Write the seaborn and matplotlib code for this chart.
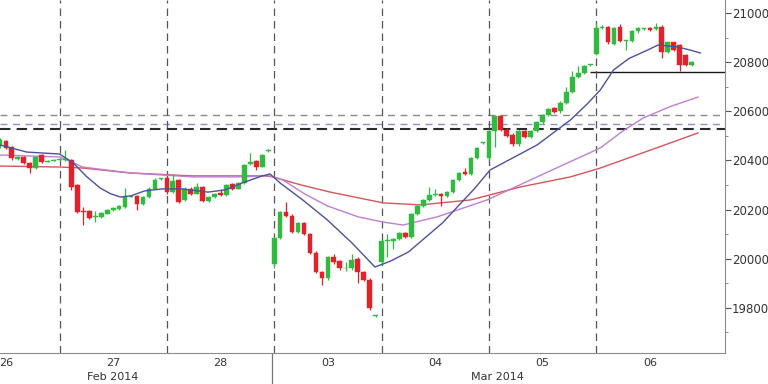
import numpy as np
import pandas as pd
import matplotlib
matplotlib.use('Agg')
import matplotlib.pyplot as plt
import matplotlib.transforms as mtransforms
import seaborn as sns

# candles: (open, close, high, low), one per hourly slot
candles = [
    # 26 Feb
    (20458, 20483, 20490, 20452), (20479, 20451, 20485, 20445), (20455, 20410, 20458, 20402),
    (20406, 20414, 20418, 20400), (20414, 20390, 20418, 20385), (20390, 20369, 20392, 20350),
    (20369, 20414, 20418, 20365), (20422, 20394, 20428, 20390), (20394, 20398, 20402, 20392),
    (20398, 20400, 20404, 20396),
    # 27 Feb
    (20400, 20402, 20406, 20396), (20400, 20402, 20442, 20398), (20402, 20290, 20405, 20278),
    (20300, 20190, 20305, 20185), (20195, 20192, 20210, 20137), (20195, 20165, 20198, 20160),
    (20168, 20170, 20195, 20150), (20170, 20185, 20188, 20165), (20183, 20200, 20204, 20180),
    (20200, 20205, 20212, 20196), (20203, 20215, 20220, 20200), (20210, 20253, 20288, 20205),
    (20253, 20255, 20258, 20250), (20255, 20222, 20260, 20200), (20222, 20250, 20255, 20218),
    (20250, 20285, 20290, 20246), (20285, 20322, 20330, 20282), (20323, 20325, 20328, 20320),
    # 28 Feb
    (20330, 20270, 20335, 20262), (20272, 20318, 20345, 20268), (20320, 20232, 20324, 20226),
    (20238, 20285, 20290, 20234), (20285, 20265, 20290, 20260), (20265, 20292, 20310, 20262),
    (20292, 20235, 20296, 20230), (20235, 20250, 20254, 20230), (20250, 20265, 20268, 20246),
    (20268, 20260, 20285, 20256), (20260, 20300, 20304, 20256), (20305, 20285, 20308, 20280),
    (20285, 20310, 20314, 20282), (20310, 20382, 20386, 20306), (20385, 20395, 20430, 20380),
    (20398, 20375, 20402, 20360), (20375, 20420, 20425, 20372), (20438, 20440, 20446, 20434),
    # 03 Mar
    (19980, 20085, 20090, 19960), (20085, 20190, 20195, 20080), (20190, 20175, 20230, 20170),
    (20175, 20110, 20180, 20105), (20110, 20145, 20150, 20105), (20145, 20100, 20150, 20095),
    (20100, 20025, 20104, 20020), (20025, 19945, 20030, 19940), (19945, 19920, 19950, 19892),
    (19920, 20005, 20010, 19915), (20005, 19985, 20020, 19980), (19990, 19960, 19995, 19955),
    (19960, 19962, 19985, 19950), (19960, 19995, 20020, 19955), (20000, 19945, 20005, 19900),
    (19945, 19915, 19950, 19910), (19915, 19800, 19920, 19790), (19767, 19768, 19772, 19764),
    # 04 Mar
    (19985, 20070, 20075, 19975), (20070, 20073, 20100, 20006), (20070, 20080, 20084, 20040),
    (20080, 20105, 20110, 20076), (20105, 20090, 20110, 20086), (20090, 20180, 20184, 20086),
    (20180, 20215, 20220, 20176), (20215, 20240, 20244, 20210), (20240, 20260, 20290, 20236),
    (20260, 20262, 20285, 20256), (20262, 20255, 20266, 20215), (20255, 20270, 20274, 20250),
    (20270, 20320, 20324, 20266), (20320, 20350, 20354, 20316), (20352, 20345, 20370, 20340),
    (20345, 20410, 20414, 20340), (20410, 20450, 20455, 20405), (20470, 20472, 20476, 20466),
    # 05 Mar
    (20410, 20518, 20525, 20400), (20518, 20580, 20585, 20455), (20580, 20525, 20585, 20520),
    (20525, 20500, 20530, 20495), (20505, 20465, 20510, 20460), (20465, 20520, 20525, 20460),
    (20520, 20495, 20525, 20490), (20495, 20520, 20525, 20490), (20520, 20555, 20560, 20515),
    (20555, 20585, 20590, 20550), (20585, 20610, 20615, 20580), (20612, 20597, 20616, 20592),
    (20600, 20635, 20640, 20595), (20632, 20680, 20700, 20628), (20680, 20740, 20765, 20676),
    (20740, 20755, 20785, 20736), (20755, 20785, 20790, 20750), (20788, 20790, 20794, 20785),
    # 06 Mar
    (20835, 20940, 20960, 20830), (20938, 20945, 20950, 20934), (20942, 20880, 20946, 20875),
    (20872, 20940, 20945, 20868), (20942, 20885, 20955, 20880), (20885, 20888, 20892, 20850),
    (20885, 20925, 20930, 20880), (20925, 20937, 20942, 20920), (20935, 20937, 20941, 20931),
    (20940, 20930, 20945, 20926), (20935, 20945, 20960, 20930), (20945, 20840, 20950, 20815),
    (20840, 20880, 20884, 20836), (20880, 20850, 20884, 20846), (20870, 20790, 20874, 20765),
    (20830, 20790, 20834, 20786), (20790, 20800, 20804, 20786),
]
first_slot = -10

# moving averages, read at points along each line
blue_t = [-10, -5.5, 0, 2.3, 4.5, 6.8, 8.5, 10.2, 12.0, 14.3, 17.2, 20.6, 24.9, 27.8, 30.6,
          34.0, 35.3, 37.0, 41.0, 44.9, 49.0, 52.9, 55.5, 58.5, 64.2, 69.7, 72.2, 76.0,
          80.1, 85.7, 88.5, 90.7, 92.9, 95.5, 98.6, 100.4, 103.6, 105.8, 107.5]
blue_v = [20463, 20434, 20426, 20390, 20335, 20288, 20265, 20251, 20256, 20276, 20284, 20284,
          20271, 20280, 20308, 20337, 20345, 20308, 20235, 20158, 20065, 19966, 19990, 20027,
          20145, 20288, 20361, 20410, 20463, 20565, 20630, 20687, 20768, 20815, 20849, 20870,
          20862, 20849, 20837]
purple_t = [-10, 0.1, 3.9, 11.8, 22.2, 30.6, 35.3, 37.5, 41.0, 44.9, 50.1, 54.3, 57.6, 63.3,
            71.7, 80.1, 90.7, 94.5, 97.9, 102.5, 107.1]
purple_v = [20422, 20414, 20373, 20349, 20333, 20333, 20337, 20320, 20265, 20215, 20170, 20149,
            20137, 20170, 20239, 20333, 20451, 20520, 20573, 20620, 20658]
red_t = [-10, 0.1, 3.9, 11.8, 22.2, 34.5, 35.8, 40.5, 45.4, 54.3, 60.5, 68.9, 77.3, 85.7,
         90.7, 99.1, 107.1]
red_v = [20377, 20373, 20369, 20349, 20337, 20337, 20333, 20300, 20271, 20227, 20219, 20239,
         20292, 20333, 20369, 20442, 20512]

day_starts = [0, 18, 36, 54, 72, 90]
day_labels = ['26', '27', '28', '03', '04', '05', '06']
day_label_pos = [-9, 9, 27, 45, 63, 81, 99]
month_labels = ['Feb 2014', 'Mar 2014']
month_label_pos = [9, 73.5]

levels_dashed = [20585, 20550, 20528]
level_solid = 20760

sns.set_style('white')
plt.rcParams['font.family'] = ['DejaVu Sans']

fig = plt.figure(figsize=(7.68, 3.84), dpi=100)
ax = fig.add_axes([0, 31 / 384, 725 / 768, 353 / 384])

xmin, xmax = -9.98, 111.6
ax.set_xlim(xmin, xmax)
ax.set_ylim(19616, 21053)

# reference levels
ax.axhline(levels_dashed[0], color='#8a8a8a', lw=1.0, ls=(0, (5, 4)), zorder=1)
ax.axhline(levels_dashed[1], color='#8b93c4', lw=1.0, ls=(0, (5, 4)), zorder=1)
ax.axhline(levels_dashed[2], color='#2a2a2a', lw=1.5, ls=(0, (5, 3)), zorder=1)
ax.hlines(level_solid, 89, xmax, color='#1a1a1a', lw=1.0, zorder=1)

for d in day_starts:
    ax.axvline(d, color='#555555', lw=0.9, ls=(0, (6, 4)), zorder=1)

# candles
df = pd.DataFrame(candles, columns=['open', 'close', 'high', 'low'])
df['t'] = np.arange(first_slot, first_slot + len(df))
up = df['close'] >= df['open']
colors = np.where(up, '#30bb40', '#e3212b')
body = (df['close'] - df['open']).abs().clip(lower=4)
bottom = df[['open', 'close']].min(axis=1)
ax.vlines(df['t'], df['low'], df['high'], colors=colors, lw=0.9, zorder=3)
ax.bar(df['t'], body, bottom=bottom, width=0.78, color=colors, edgecolor=colors,
       lw=0.3, zorder=4)

# moving averages
sns.lineplot(x=red_t, y=red_v, ax=ax, color='#d8545a', lw=1.0, zorder=2)
sns.lineplot(x=purple_t, y=purple_v, ax=ax, color='#c07ed6', lw=1.0, zorder=2)
sns.lineplot(x=blue_t, y=blue_v, ax=ax, color='#4b529c', lw=1.0, zorder=5)

# axes styling
for s in ['left', 'top']:
    ax.spines[s].set_visible(False)
ax.spines['right'].set_color('#8c8c8c')
ax.spines['bottom'].set_color('#8c8c8c')
ax.yaxis.tick_right()
ax.set_yticks(np.arange(19800, 21001, 200))
ax.set_yticks(np.arange(19700, 21001, 200), minor=True)
ax.tick_params(axis='y', which='major', direction='out', length=4, color='#555555',
               labelsize=8.5, labelcolor='#333333', pad=1)
ax.tick_params(axis='y', which='minor', direction='out', length=2, color='#777777')
ax.set_xticks([])
ax.set_xlabel('')
ax.set_ylabel('')

trans = mtransforms.blended_transform_factory(ax.transData, ax.transAxes)
for lab, pos in zip(day_labels, day_label_pos):
    ax.text(pos, -0.014, lab, transform=trans, ha='center', va='top', fontsize=8,
            color='#333333')
for lab, pos in zip(month_labels, month_label_pos):
    ax.text(pos, -0.054, lab, transform=trans, ha='center', va='top', fontsize=8,
            color='#333333')
ax.plot([35.7, 35.7], [0, -0.1], transform=trans, color='#777777', lw=0.9, clip_on=False)

fig.savefig('out.png', dpi=100)
